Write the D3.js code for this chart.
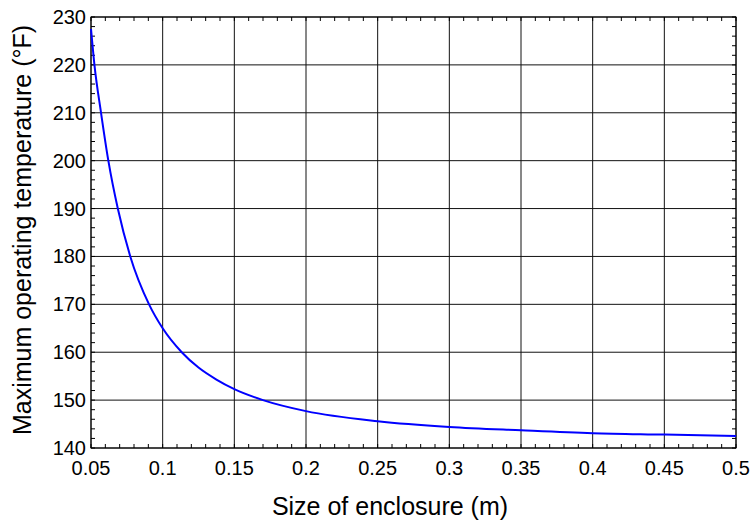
<!DOCTYPE html>
<html>
<head>
<meta charset="utf-8">
<script src="https://cdn.jsdelivr.net/npm/d3@7"></script>
<style>
  body { margin: 0; background: #fff; }
  text { font-family: Arial, "Liberation Sans", sans-serif; fill: #000; }
</style>
</head>
<body>
<div id="chart"></div>
<script>
// values
const sizes = [0.05, 0.0524, 0.057, 0.0621, 0.0687, 0.0774, 0.0905, 0.1, 0.1133, 0.125, 0.1375, 0.15, 0.17, 0.2, 0.25, 0.3, 0.35, 0.4, 0.45, 0.5]
const temps = [227.5, 220, 210, 200, 190, 180, 170, 165.0, 160, 156.8, 154.3, 152.3, 150.0, 147.7, 145.6, 144.4, 143.7, 143.1, 142.8, 142.5]
const xTicks = [0.05, 0.1, 0.15, 0.2, 0.25, 0.3, 0.35, 0.4, 0.45, 0.5]
const yTicks = [140, 150, 160, 170, 180, 190, 200, 210, 220, 230]
const xLabel = 'Size of enclosure (m)'
const yLabel = 'Maximum operating temperature (°F)'

const width = 752, height = 523
const margin = {top: 17, right: 16, bottom: 75, left: 91}
const w = width - margin.left - margin.right,
  h = height - margin.top - margin.bottom

const svg = d3.select('#chart').append('svg')
  .attr('width', width)
  .attr('height', height)
const g = svg.append('g')
  .attr('transform', `translate(${margin.left}, ${margin.top})`)

const x = d3.scaleLinear().domain([0.05, 0.5]).range([0, w])
const y = d3.scaleLinear().domain([140, 230]).range([h, 0])

// grid
g.append('g').selectAll('line')
  .data(xTicks)
  .enter().append('line')
  .attr('x1', d => x(d)).attr('x2', d => x(d))
  .attr('y1', 0).attr('y2', h)
  .attr('stroke', '#111').attr('stroke-width', 1)
g.append('g').selectAll('line')
  .data(yTicks)
  .enter().append('line')
  .attr('x1', 0).attr('x2', w)
  .attr('y1', d => y(d)).attr('y2', d => y(d))
  .attr('stroke', '#111').attr('stroke-width', 1)

// minor ticks, inward on all four sides
const xMinor = d3.range(0.05, 0.5001, 0.01)
const yMinor = d3.range(140, 230.001, 2)
const tl = 4
const ticks = g.append('g').attr('stroke', '#000').attr('stroke-width', 1)
xMinor.forEach(v => {
  ticks.append('line').attr('x1', x(v)).attr('x2', x(v)).attr('y1', h).attr('y2', h - tl)
  ticks.append('line').attr('x1', x(v)).attr('x2', x(v)).attr('y1', 0).attr('y2', tl)
})
yMinor.forEach(v => {
  ticks.append('line').attr('x1', 0).attr('x2', tl).attr('y1', y(v)).attr('y2', y(v))
  ticks.append('line').attr('x1', w).attr('x2', w - tl).attr('y1', y(v)).attr('y2', y(v))
})

// frame
g.append('rect')
  .attr('width', w).attr('height', h)
  .attr('fill', 'none').attr('stroke', '#000').attr('stroke-width', 1)

// tick labels
g.append('g').selectAll('text')
  .data(xTicks)
  .enter().append('text')
  .attr('x', d => x(d))
  .attr('y', h + 27)
  .attr('text-anchor', 'middle')
  .style('font-size', '20px')
  .text(d => d3.format('')(d))
g.append('g').selectAll('text')
  .data(yTicks)
  .enter().append('text')
  .attr('x', -5)
  .attr('y', d => y(d) + 7)
  .attr('text-anchor', 'end')
  .style('font-size', '20px')
  .text(d => d)

// curve
const line = d3.line()
  .x((d, i) => x(sizes[i]))
  .y(d => y(d))
  .curve(d3.curveMonotoneX)
g.append('path')
  .attr('d', line(temps))
  .attr('fill', 'none')
  .attr('stroke', '#0000ff')
  .attr('stroke-width', 2)

// axis titles
svg.append('text')
  .attr('x', 390)
  .attr('y', 515)
  .attr('text-anchor', 'middle')
  .style('font-size', '25px')
  .text(xLabel)
svg.append('text')
  .attr('transform', 'translate(31, 230) rotate(-90)')
  .attr('text-anchor', 'middle')
  .style('font-size', '25px')
  .text(yLabel)
</script>
</body>
</html>
